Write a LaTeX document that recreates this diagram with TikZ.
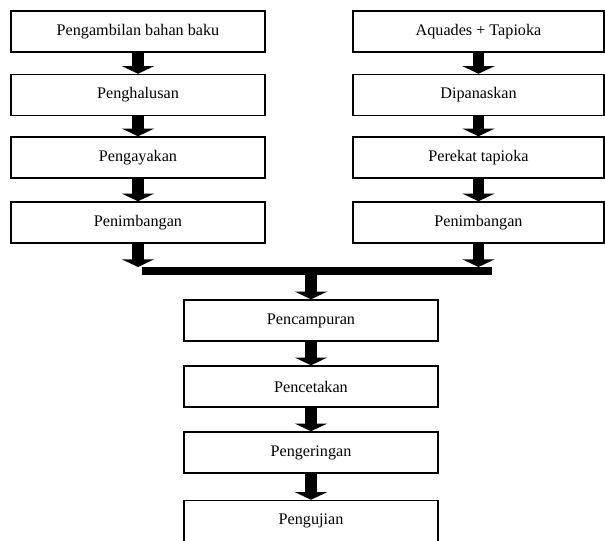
\documentclass[tikz,border=0pt]{standalone}
\usepackage{fontspec}
\setmainfont{Liberation Serif}
\usetikzlibrary{arrows.meta, positioning}

\begin{document}
\begin{tikzpicture}[x=0.025cm, y=-0.025cm,
  procbox/.style={draw, line width=1.2pt, minimum width=6.35cm, minimum height=1.02cm, inner sep=0pt, font=\fontsize{11.5}{13}\selectfont},
  fatarr/.style={-{Triangle[width=23pt,length=5.5pt]}, line width=8.5pt},
  joinbar/.style={line width=5.7pt}
]
\useasboundingbox (0,0) rectangle (605,540);
% kolom kiri
\node[procbox] (ambil) at (138,31.5) {Pengambilan bahan baku};
\node[procbox] (halus) at (138,95) {Penghalusan};
\node[procbox] (ayak) at (138,157.5) {Pengayakan};
\node[procbox] (timbangA) at (138,222.5) {Penimbangan};
% kolom kanan
\node[procbox, minimum width=6.28cm] (aquades) at (478.5,31.5) {Aquades + Tapioka};
\node[procbox, minimum width=6.28cm] (panas) at (478.5,95) {Dipanaskan};
\node[procbox, minimum width=6.28cm] (perekat) at (478.5,157.5) {Perekat tapioka};
\node[procbox, minimum width=6.28cm] (timbangB) at (478.5,222.5) {Penimbangan};
% kolom tengah
\node[procbox] (campur) at (311,320.5) {Pencampuran};
\node[procbox] (cetak) at (311,386.5) {Pencetakan};
\node[procbox] (kering) at (311,452.5) {Pengeringan};
\node[procbox] (uji) at (311,521) {Pengujian};

\draw[fatarr] (ambil) -- (halus);
\draw[fatarr] (halus) -- (ayak);
\draw[fatarr] (ayak) -- (timbangA);
\draw[fatarr] (aquades) -- (panas);
\draw[fatarr] (panas) -- (perekat);
\draw[fatarr] (perekat) -- (timbangB);

% penggabungan
\coordinate (barL) at (142,271);
\coordinate (barR) at (492,271);
\coordinate (barM) at (311,271);
\draw[fatarr, shorten >=2.85pt] (timbangA) -- (timbangA.south |- barL);
\draw[fatarr, shorten >=2.85pt] (timbangB) -- (timbangB.south |- barR);
\draw[joinbar] (barL) -- (barR);
\draw[fatarr] (barM) -- (campur);

\draw[fatarr] (campur) -- (cetak);
\draw[fatarr] (cetak) -- (kering);
\draw[fatarr] (kering) -- (uji);
\end{tikzpicture}
\end{document}
